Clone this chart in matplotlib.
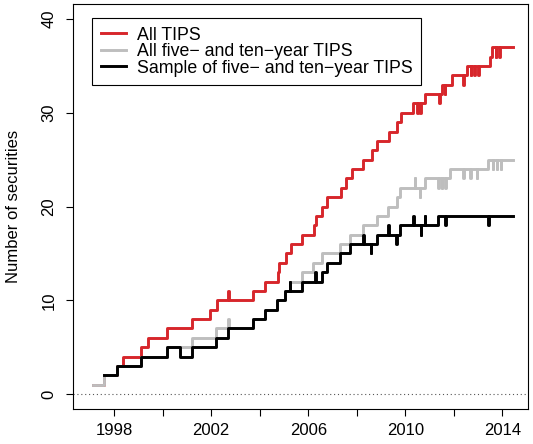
import matplotlib
matplotlib.use("Agg")
import matplotlib.pyplot as plt

plt.rcParams['font.family'] = ['Liberation Sans', 'DejaVu Sans']

# step change points (year, number outstanding); close pairs draw the spikes
red_years = [1997.13, 1997.58, 1998.10, 1998.37, 1999.12, 1999.40, 2000.16, 2001.19,
             2001.95, 2002.22, 2002.70, 2002.73, 2003.73, 2004.21, 2004.74, 2004.78,
             2005.09, 2005.29, 2005.75, 2006.25, 2006.30, 2006.55, 2006.76, 2007.33,
             2007.55, 2007.79, 2008.25, 2008.61, 2008.85, 2009.34, 2009.64, 2009.83,
             2010.32, 2010.50, 2010.52, 2010.62, 2010.64, 2010.81, 2011.40, 2011.42,
             2011.50, 2011.62, 2011.64, 2011.91, 2012.39, 2012.41, 2012.53, 2012.69,
             2012.71, 2012.85, 2012.87, 2013.01, 2013.03, 2013.49, 2013.56, 2013.72,
             2013.74, 2013.88, 2013.90, 2014.45]
red_counts = [1, 2, 3, 4, 5, 6, 7, 8,
              9, 10, 11, 10, 11, 12, 13, 14,
              15, 16, 17, 18, 19, 20, 21, 22,
              23, 24, 25, 26, 27, 28, 29, 30,
              31, 30, 31, 30, 31, 32, 31, 32,
              33, 32, 33, 34, 33, 34, 35, 34,
              35, 34, 35, 34, 35, 36, 37, 36,
              37, 36, 37, 37]

gray_years = [1997.13, 1997.58, 1998.10, 1999.12, 2000.16, 2001.19, 2002.20, 2002.70,
              2002.73, 2003.73, 2004.21, 2004.72, 2005.06, 2005.25, 2005.73, 2006.21,
              2006.55, 2007.31, 2007.72, 2008.27, 2008.82, 2009.30, 2009.64, 2009.78,
              2010.40, 2010.42, 2010.60, 2010.62, 2010.81, 2011.36, 2011.38, 2011.50,
              2011.52, 2011.64, 2011.66, 2011.84, 2012.39, 2012.41, 2012.67, 2012.69,
              2012.95, 2012.97, 2013.42, 2013.60, 2013.62, 2013.77, 2013.79, 2013.93,
              2013.95, 2014.45]
gray_counts = [1, 2, 3, 4, 5, 6, 7, 8,
               7, 8, 9, 10, 11, 12, 13, 14,
               15, 16, 17, 18, 19, 20, 21, 22,
               23, 22, 21, 22, 23, 22, 23, 22,
               23, 22, 23, 24, 23, 24, 23, 24,
               23, 24, 25, 24, 25, 24, 25, 24,
               25, 25]

black_years = [1997.58, 1998.10, 1999.12, 2000.16, 2000.71, 2001.19, 2002.18, 2002.70,
               2003.71, 2004.21, 2004.72, 2005.05, 2005.24, 2005.26, 2005.73, 2006.28,
               2006.30, 2006.55, 2006.76, 2007.31, 2007.72, 2008.27, 2008.29, 2008.57,
               2008.59, 2008.82, 2009.30, 2009.32, 2009.62, 2009.64, 2009.78, 2010.33,
               2010.35, 2010.63, 2010.65, 2010.81, 2010.83, 2011.36, 2011.64, 2011.66,
               2013.42, 2013.44, 2014.45]
black_counts = [2, 3, 4, 5, 4, 5, 6, 7,
                8, 9, 10, 11, 12, 11, 12, 13,
                12, 13, 14, 15, 16, 17, 16, 15,
                16, 17, 18, 17, 16, 17, 18, 19,
                18, 17, 18, 19, 18, 19, 18, 19,
                18, 19, 19]

series = [
    (red_years, red_counts, '#D7262B', 'All TIPS'),
    (gray_years, gray_counts, '#BEBEBE', 'All five\u2212 and ten\u2212year TIPS'),
    (black_years, black_counts, 'black', 'Sample of five\u2212 and ten\u2212year TIPS'),
]

fig = plt.figure(figsize=(5.33, 4.44), dpi=100)
ax = fig.add_axes([73 / 533, 35 / 444, 455 / 533, 405 / 444])

ax.axhline(0, color='#555555', lw=0.8, ls=(0, (1, 2.5)))
for yrs, cnt, col, lab in series:
    ax.plot(yrs, cnt, drawstyle='steps-post', color=col, lw=2.1, label=lab)

ax.set_xlim(1996.30, 2015.06)
ax.set_ylim(-1.6, 41.6)
ax.set_xticks(range(1998, 2015, 2))
ax.set_xticklabels([str(y) if (y - 1998) % 4 == 0 else '' for y in range(1998, 2015, 2)])
ax.set_yticks([0, 10, 20, 30, 40])
ax.tick_params(axis='both', direction='out', length=5, width=0.8, labelsize=12)
ax.tick_params(axis='x', pad=5)
ax.tick_params(axis='y', pad=7)
for lbl in ax.get_yticklabels():
    lbl.set_rotation(90)
    lbl.set_va('center')
for sp in ax.spines.values():
    sp.set_linewidth(0.8)

ax.set_ylabel('Number of securities', fontsize=12)
ax.yaxis.set_label_coords(-0.115, 0.5)

leg = ax.legend(loc='upper left', bbox_to_anchor=(0.042, 0.965), fontsize=12.8,
                frameon=True, fancybox=False, edgecolor='black', framealpha=1,
                borderpad=0.48, handlelength=1.45, handletextpad=0.6,
                labelspacing=-0.03, borderaxespad=0)
leg.get_frame().set_linewidth(0.8)

fig.savefig('out.png', dpi=100)
